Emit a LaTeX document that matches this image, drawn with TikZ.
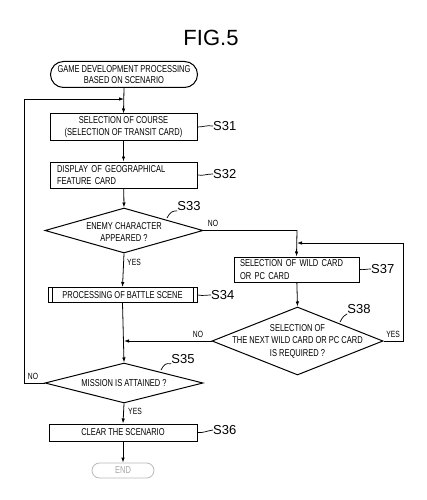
\documentclass[tikz,border=0pt]{standalone}
\usepackage{fontspec}
\setmainfont{Liberation Sans}
\newfontfamily\pf[FakeStretch=0.75]{Liberation Sans}
\usetikzlibrary{shapes.geometric,arrows.meta}
\begin{document}
\begin{tikzpicture}[x=1pt,y=-1pt,
  txt/.style={font=\pf\fontsize{10}{12.5}\selectfont,align=center,inner sep=0pt},
  box/.style={draw,line width=1pt,minimum width=147pt,minimum height=26pt,inner sep=0pt,font=\pf\fontsize{10}{12.5}\selectfont,align=center},
  term/.style={box,rounded corners=13pt},
  dia/.style={draw,diamond,line width=1pt,inner sep=0pt},
  lab/.style={font=\fontsize{13}{15}\selectfont,inner sep=0pt},
  yn/.style={font=\pf\fontsize{9}{10}\selectfont,inner sep=0pt},
  flow/.style={line width=0.8pt,-{Latex[length=5pt,width=3.5pt]}},
  tick/.style={line width=0.7pt}]
\useasboundingbox (0,0) rectangle (427,500);

\node[font=\fontsize{22}{24}\selectfont,inner sep=0pt] (title) at (211,38) {FIG.5};

\node[term] (start) at (124,74.5) {GAME DEVELOPMENT PROCESSING\\[-1pt]BASED ON SCENARIO};
\node[box] (s31) at (123.5,127) {SELECTION OF COURSE\\(SELECTION OF TRANSIT CARD)};
\node[box,align=left,text width=133pt] (s32) at (123.5,175) {DISPLAY OF GEOGRAPHICAL\\FEATURE CARD};
\node[dia,minimum width=158pt,minimum height=45pt] (s33) at (124,230.5) {};
\node[txt] (t33) at (124,232) {ENEMY CHARACTER\\APPEARED ?};
\node[box,minimum width=149pt,minimum height=15pt] (s34) at (122.5,295) {PROCESSING OF BATTLE SCENE};
\node[box,minimum width=125pt,minimum height=25pt,align=left,text width=113pt] (s37) at (296.5,269.5) {SELECTION OF WILD CARD\\OR PC CARD};
\node[dia,minimum width=171pt,minimum height=68pt] (s38) at (297.5,341) {};
\node[txt] (t38) at (297.5,341) {SELECTION OF\\THE NEXT WILD CARD OR PC CARD\\IS REQUIRED ?};
\node[dia,minimum width=158pt,minimum height=40pt] (s35) at (124,383) {};
\node[txt] (t35) at (124,383) {MISSION IS ATTAINED ?};
\node[box,minimum width=148pt,minimum height=17pt] (s36) at (123,432.5) {CLEAR THE SCENARIO};
\node[term,draw=gray!55,text=gray!70,minimum width=62pt,minimum height=15pt,rounded corners=7.5pt,line width=0.8pt] (end) at (123,470.5) {END};

% predefined-process side bars
\draw[line width=0.8pt] ([xshift=4.5pt]s34.north west) -- ([xshift=4.5pt]s34.south west);
\draw[line width=0.8pt] ([xshift=-4.5pt]s34.north east) -- ([xshift=-4.5pt]s34.south east);

% junction coordinates
\coordinate (j1) at (124,99);
\coordinate (j2) at (124,341);
\coordinate (j3) at (297,243);
\coordinate (l1) at (24,383);
\coordinate (l2) at (24,99);
\coordinate (n1) at (297,230.5);
\coordinate (r1) at (403,341);
\coordinate (r2) at (403,243);

% connectors
\draw[flow] (start.south) -- (s31.north);
\draw[flow] (s35.west) -- (l1) -- (l2) -- (j1);
\draw[flow] (s31) -- (s32);
\draw[flow] (s32) -- (s33.north);
\draw[flow] (s33.south) -- (s34.north);
\draw[flow] (s33.east) -- (n1) -- (s37.north);
\draw[flow] (s37) -- (s38.north);
\draw[flow] (s38.east) -- (r1) -- (r2) -- (j3);
\draw[flow] (s38.west) -- (j2);
\draw[flow] (s34.south) -- (s35.north);
\draw[flow] (s35.south) -- (s36.north);
\draw[flow] (s36) -- (end);

% yes / no labels
\node[yn] (y33) at (134,262) {YES};
\node[yn] (n33) at (213,223) {NO};
\node[yn] (n38) at (198,334) {NO};
\node[yn] (y38) at (393,334) {YES};
\node[yn] (n35) at (33,376) {NO};
\node[yn] (y35) at (135,411) {YES};

% step labels
\node[lab,anchor=west] (S31) at (213,126) {S31};
\draw[tick] (s31.east) .. controls (204,127) and (206,125) .. (S31.west);
\node[lab,anchor=west] (S32) at (213,174) {S32};
\draw[tick] (s32.east) .. controls (204,176) and (206,174) .. (S32.west);
\node[lab] (S33) at (189,206) {S33};
\draw[tick] (167,218) .. controls (170,212) and (172,211) .. (S33.south west);
\node[lab,anchor=west] (S34) at (211,295) {S34};
\draw[tick] (s34.east) .. controls (204,296) and (206,295) .. (S34.west);
\node[lab,anchor=west] (S37) at (371,269) {S37};
\draw[tick] (s37.east) .. controls (364,270) and (366,269) .. (S37.west);
\node[lab] (S38) at (359,309) {S38};
\draw[tick] (340,322) .. controls (343,316) and (345,315) .. (S38.south west);
\node[lab] (S35) at (183,359) {S35};
\draw[tick] (161,370) .. controls (164,364) and (166,363) .. (S35.south west);
\node[lab,anchor=west] (S36) at (213,430) {S36};
\draw[tick] (s36.east) .. controls (204,433) and (206,431) .. (S36.west);
\end{tikzpicture}
\end{document}
